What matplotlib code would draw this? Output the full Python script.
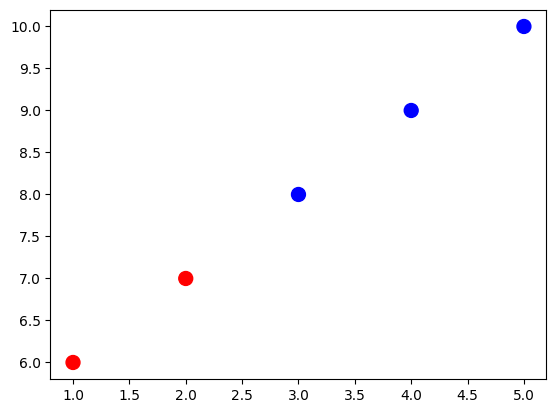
import numpy as np
from matplotlib import pyplot as plt

x = np.array([1, 2, 3, 4, 5])
y = np.array([6, 7, 8, 9, 10])
colors = ['red', 'red', 'blue', 'blue', 'blue']

fig, ax = plt.subplots()
ax.scatter(x, y, c=colors, s=100)
fig.savefig('out.png', bbox_inches='tight')
